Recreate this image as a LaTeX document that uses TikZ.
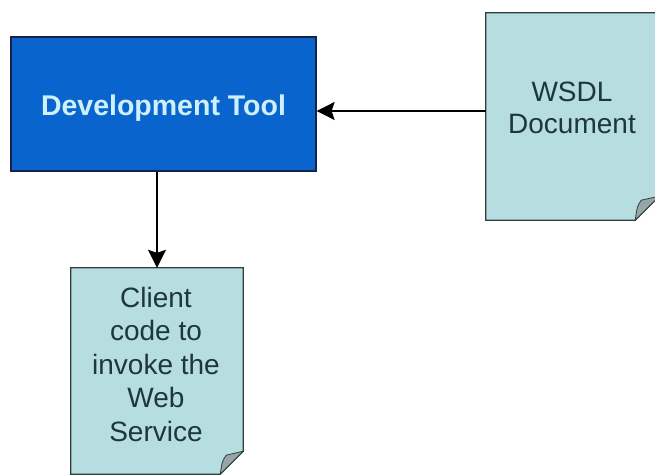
\documentclass[tikz,border=0pt]{standalone}
\usepackage{fontspec}
\setmainfont{Liberation Sans}
\usetikzlibrary{arrows.meta,calc}

\definecolor{toolblue}{RGB}{10,100,205}
\definecolor{toolborder}{RGB}{20,35,70}
\definecolor{tooltext}{RGB}{205,240,250}
\definecolor{docfill}{RGB}{182,221,224}
\definecolor{docborder}{RGB}{50,62,62}
\definecolor{doctextcol}{RGB}{30,55,55}
\definecolor{foldgray}{RGB}{150,165,168}

% page outline with a folded bottom-right corner, drawn round a named node
\newcommand\docpage[2]{%
  \path[docline]
    (#1.north west) -- (#1.north east) -- ($(#1.south east)+(0,-#2)$)
    -- ($(#1.south east)+(-#2,0)$) -- (#1.south west) -- cycle;
  \path[foldline]
    ($(#1.south east)+(-#2,0)$)
    .. controls ($(#1.south east)+(-#2+2,-#2+10)$) .. ($(#1.south east)+(-#2+6,-#2+4)$)
    -- ($(#1.south east)+(0,-#2)$) -- cycle;
}

\begin{document}
\begin{tikzpicture}[x=1pt,y=-1pt,
  toolbox/.style={draw=toolborder, line width=1.2pt, fill=toolblue,
    text=tooltext, font=\fontsize{28.5}{32}\selectfont\bfseries,
    text height=22pt, text depth=0pt},
  docbody/.style={inner sep=0pt},
  docline/.style={draw=docborder, line width=1.2pt, fill=docfill},
  foldline/.style={draw=docborder, line width=0.8pt, fill=foldgray},
  doctxt/.style={text=doctextcol, align=center},
  arr/.style={draw=black, line width=1.5pt,
    -{Stealth[length=18pt,width=18pt,inset=3pt]}}]

\useasboundingbox (0,0) rectangle (655,474);
\clip (0,0) rectangle (655,474);
\fill[white] (0,0) rectangle (655,474);

% the tool
\node[toolbox, minimum width=305pt, minimum height=134pt] (tool) at (163.5,104) {Development Tool};

% input and output documents
\node[docbody, minimum width=173pt, minimum height=207pt] (wsdl) at (572.5,116.5) {};
\node[docbody, minimum width=172pt, minimum height=206pt] (client) at (157,371) {};
\docpage{wsdl}{24}
\docpage{client}{23}

\node[doctxt, font=\fontsize{28}{32}\selectfont] (wsdltxt) at (572,108) {WSDL\\Document};
\node[doctxt, font=\fontsize{28}{33.5}\selectfont] (clienttxt) at (156,364) {Client\\code to\\invoke the\\Web\\Service};

% connectors
\coordinate (win) at ($(wsdl.west)+(0,-5.5)$);
\draw[arr] (win) -- (win -| tool.east);
\draw[arr] (tool.south -| client.north) -- (client.north);
\end{tikzpicture}
\end{document}
